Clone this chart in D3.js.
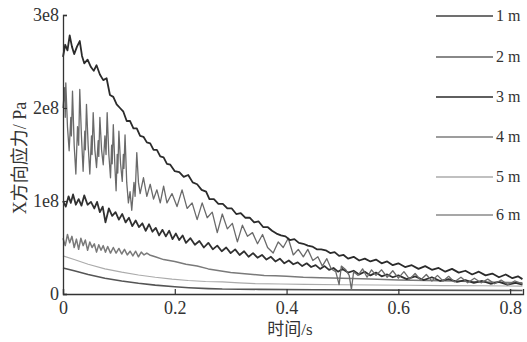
<!DOCTYPE html>
<html><head><meta charset="utf-8">
<script src="https://cdn.jsdelivr.net/npm/d3@7/dist/d3.min.js"></script>
<style>body{margin:0;background:#fff;} svg text{font-family:"Liberation Serif","Noto Sans CJK SC",serif !important;}</style>
</head><body><svg id="c" width="527" height="342"></svg>
<script>
// values in units of 1e8 Pa, time in s
const seriesNames = ["1 m","2 m","3 m","4 m","5 m","6 m"];
const xTicks = [0,0.2,0.4,0.6,0.8];
const xTickLabels = ["0","0.2","0.4","0.6","0.8"];
const yTicks = [0,1,2,3];
const yTickLabels = ["0","1e8","2e8","3e8"];

const s1 = [[0.000,2.55],[0.004,2.68],[0.008,2.62],[0.012,2.78],[0.016,2.66],[0.020,2.58],[0.025,2.66],[0.030,2.72],[0.034,2.56],[0.038,2.48],[0.044,2.52],[0.050,2.44],[0.055,2.40],[0.060,2.46],[0.066,2.36],[0.072,2.30],[0.078,2.32],[0.084,2.14],[0.090,2.12],[0.096,2.04],[0.102,2.00],[0.108,1.96],[0.114,1.86],[0.120,1.86],[0.126,1.78],[0.132,1.78],[0.138,1.70],[0.144,1.69],[0.150,1.63],[0.156,1.62],[0.162,1.55],[0.168,1.55],[0.174,1.48],[0.180,1.47],[0.186,1.40],[0.192,1.39],[0.200,1.32],[0.208,1.31],[0.216,1.26],[0.224,1.28],[0.232,1.20],[0.240,1.18],[0.248,1.12],[0.256,1.10],[0.262,1.02],[0.270,1.02],[0.278,0.97],[0.286,0.97],[0.294,0.92],[0.302,0.92],[0.310,0.86],[0.318,0.87],[0.326,0.82],[0.334,0.82],[0.342,0.77],[0.350,0.78],[0.358,0.72],[0.366,0.72],[0.374,0.68],[0.382,0.65],[0.390,0.63],[0.398,0.62],[0.406,0.58],[0.414,0.59],[0.422,0.55],[0.430,0.54],[0.438,0.52],[0.446,0.51],[0.454,0.48],[0.462,0.48],[0.470,0.47],[0.478,0.44],[0.486,0.45],[0.494,0.41],[0.502,0.42],[0.510,0.38],[0.520,0.40],[0.530,0.36],[0.540,0.38],[0.550,0.35],[0.560,0.37],[0.570,0.33],[0.580,0.35],[0.590,0.31],[0.600,0.33],[0.612,0.29],[0.624,0.31],[0.636,0.27],[0.648,0.30],[0.660,0.26],[0.672,0.28],[0.684,0.24],[0.696,0.27],[0.708,0.23],[0.720,0.25],[0.732,0.21],[0.744,0.24],[0.756,0.20],[0.768,0.22],[0.780,0.18],[0.792,0.21],[0.804,0.17],[0.814,0.19],[0.822,0.16]];

const s2 = [[0.000,2.00],[0.003,2.22],[0.004,1.90],[0.005,2.27],[0.008,1.80],[0.011,1.54],[0.014,1.90],[0.015,1.70],[0.017,2.18],[0.020,1.60],[0.023,1.29],[0.026,1.80],[0.028,1.60],[0.030,2.20],[0.033,1.70],[0.036,1.32],[0.039,1.75],[0.040,1.55],[0.042,2.04],[0.045,1.60],[0.048,1.29],[0.051,1.70],[0.052,1.50],[0.054,1.95],[0.057,1.55],[0.060,1.36],[0.063,1.65],[0.064,1.48],[0.066,1.90],[0.069,1.55],[0.072,1.39],[0.075,1.70],[0.077,1.50],[0.079,1.95],[0.082,1.50],[0.085,1.25],[0.087,1.60],[0.088,1.40],[0.090,1.82],[0.093,1.35],[0.095,1.11],[0.097,1.50],[0.098,1.30],[0.100,1.75],[0.103,1.40],[0.106,1.21],[0.108,1.50],[0.109,1.35],[0.111,1.71],[0.114,1.20],[0.117,0.98],[0.120,1.10],[0.123,0.90],[0.127,1.20],[0.129,1.05],[0.132,1.52],[0.135,1.20],[0.138,1.08],[0.144,1.25],[0.150,1.05],[0.156,1.18],[0.162,1.02],[0.168,1.12],[0.174,0.98],[0.180,1.16],[0.186,0.98],[0.195,1.08],[0.204,0.94],[0.213,1.12],[0.222,0.92],[0.231,0.98],[0.240,0.80],[0.249,0.98],[0.258,0.82],[0.267,0.88],[0.276,0.66],[0.285,0.86],[0.294,0.70],[0.303,0.76],[0.312,0.56],[0.321,0.74],[0.330,0.62],[0.339,0.66],[0.348,0.54],[0.357,0.64],[0.366,0.50],[0.376,0.44],[0.385,0.56],[0.394,0.50],[0.403,0.60],[0.412,0.42],[0.421,0.48],[0.430,0.40],[0.438,0.48],[0.447,0.36],[0.456,0.40],[0.464,0.30],[0.472,0.38],[0.480,0.27],[0.488,0.24],[0.494,0.10],[0.498,0.30],[0.506,0.26],[0.512,0.20],[0.516,0.05],[0.520,0.24],[0.528,0.20],[0.536,0.27],[0.544,0.18],[0.552,0.26],[0.560,0.20],[0.570,0.26],[0.580,0.18],[0.590,0.25],[0.600,0.17],[0.610,0.24],[0.620,0.16],[0.630,0.22],[0.640,0.15],[0.650,0.21],[0.660,0.14],[0.670,0.20],[0.680,0.14],[0.690,0.19],[0.700,0.13],[0.712,0.18],[0.724,0.12],[0.736,0.17],[0.748,0.12],[0.760,0.16],[0.772,0.11],[0.784,0.15],[0.796,0.10],[0.808,0.14],[0.822,0.11]];

const s3 = [[0.000,1.00],[0.005,0.94],[0.010,1.05],[0.014,0.98],[0.018,1.07],[0.023,0.96],[0.028,1.02],[0.033,0.95],[0.038,1.06],[0.044,0.96],[0.050,0.99],[0.056,0.92],[0.061,0.99],[0.066,0.88],[0.071,0.94],[0.076,0.77],[0.082,0.92],[0.088,0.84],[0.094,0.88],[0.100,0.80],[0.106,0.86],[0.112,0.77],[0.118,0.82],[0.124,0.73],[0.130,0.79],[0.136,0.72],[0.142,0.76],[0.148,0.68],[0.154,0.75],[0.160,0.67],[0.166,0.71],[0.172,0.63],[0.178,0.69],[0.184,0.62],[0.190,0.68],[0.196,0.59],[0.202,0.65],[0.208,0.58],[0.214,0.63],[0.220,0.55],[0.228,0.60],[0.236,0.53],[0.244,0.57],[0.252,0.50],[0.260,0.55],[0.268,0.48],[0.276,0.52],[0.284,0.46],[0.292,0.50],[0.300,0.44],[0.308,0.48],[0.316,0.42],[0.324,0.46],[0.332,0.40],[0.340,0.44],[0.348,0.39],[0.356,0.42],[0.364,0.37],[0.372,0.40],[0.380,0.35],[0.388,0.38],[0.396,0.33],[0.404,0.36],[0.412,0.32],[0.420,0.34],[0.428,0.30],[0.436,0.33],[0.444,0.29],[0.452,0.31],[0.460,0.27],[0.468,0.30],[0.476,0.26],[0.484,0.28],[0.492,0.24],[0.500,0.27],[0.510,0.23],[0.520,0.25],[0.530,0.21],[0.540,0.24],[0.550,0.20],[0.560,0.23],[0.570,0.19],[0.580,0.21],[0.590,0.18],[0.600,0.20],[0.615,0.16],[0.630,0.19],[0.645,0.15],[0.660,0.18],[0.675,0.14],[0.690,0.16],[0.705,0.13],[0.720,0.15],[0.735,0.12],[0.750,0.14],[0.765,0.11],[0.780,0.13],[0.795,0.10],[0.810,0.12],[0.822,0.10]];

const s4 = [[0.000,0.60],[0.004,0.52],[0.008,0.64],[0.012,0.55],[0.016,0.62],[0.020,0.50],[0.024,0.59],[0.028,0.48],[0.032,0.60],[0.036,0.52],[0.040,0.58],[0.044,0.47],[0.048,0.56],[0.052,0.50],[0.056,0.54],[0.060,0.45],[0.064,0.53],[0.068,0.47],[0.072,0.52],[0.076,0.45],[0.080,0.51],[0.085,0.44],[0.090,0.50],[0.095,0.44],[0.100,0.49],[0.105,0.43],[0.110,0.48],[0.115,0.42],[0.120,0.46],[0.125,0.41],[0.130,0.46],[0.135,0.40],[0.140,0.45],[0.145,0.42],[0.150,0.44],[0.155,0.42],[0.165,0.40],[0.180,0.37],[0.200,0.35],[0.220,0.32],[0.240,0.30],[0.260,0.27],[0.280,0.25],[0.300,0.23],[0.320,0.22],[0.340,0.21],[0.360,0.20],[0.380,0.195],[0.400,0.19],[0.430,0.18],[0.460,0.175],[0.500,0.17],[0.550,0.16],[0.600,0.15],[0.650,0.145],[0.700,0.14],[0.750,0.13],[0.822,0.12]];

const s5 = [[0.000,0.41],[0.020,0.37],[0.045,0.32],[0.075,0.27],[0.105,0.235],[0.135,0.205],[0.165,0.18],[0.195,0.16],[0.224,0.145],[0.255,0.135],[0.285,0.13],[0.315,0.12],[0.344,0.112],[0.390,0.107],[0.433,0.104],[0.500,0.10],[0.560,0.097],[0.620,0.094],[0.680,0.09],[0.750,0.088],[0.822,0.085]];

const s6 = [[0.000,0.28],[0.020,0.25],[0.045,0.21],[0.075,0.17],[0.105,0.14],[0.135,0.115],[0.165,0.095],[0.200,0.078],[0.225,0.068],[0.260,0.058],[0.285,0.053],[0.350,0.05],[0.450,0.046],[0.600,0.042],[0.822,0.038]];

const seriesData = [s1,s2,s3,s4,s5,s6];
const lineColors = ["#2b2b2b","#6a6a6a","#303030","#7a7a7a","#ababab","#555555"];
const lineWidths = [1.8,1.3,1.8,1.5,1.1,1.6];
const legendColors = ["#404040","#606060","#2a2a2a","#7c7c7c","#ababab","#8a8a8a"];

const svg = d3.select("#c");
const m = {l:63, t:15, r:4, b:48};
const W = 527, H = 342;
const x = d3.scaleLinear().domain([0,0.823]).range([m.l, W-m.r]);
const y = d3.scaleLinear().domain([0,3]).range([H-m.b, m.t]);

const line = d3.line().x(d=>x(d[0])).y(d=>y(d[1]));
[5,4,3,2,1,0].forEach(i=>{
  svg.append("path").datum(seriesData[i]).attr("d",line)
    .attr("fill","none").attr("stroke",lineColors[i]).attr("stroke-width",lineWidths[i])
    .attr("stroke-linejoin","round");
});

const xa = svg.append("g").attr("transform",`translate(0,${H-m.b})`)
  .call(d3.axisBottom(x).tickValues(xTicks).tickSize(-5).tickPadding(7).tickFormat((d,i)=>xTickLabels[i]));
const ya = svg.append("g").attr("transform",`translate(${m.l},0)`)
  .call(d3.axisLeft(y).tickValues(yTicks).tickSize(-4).tickPadding(4).tickFormat((d,i)=>yTickLabels[i]));
[xa,ya].forEach(g=>{
  g.attr("font-family",null);
  g.select(".domain").attr("stroke","#333").attr("stroke-width",1.3);
  g.selectAll(".tick line").attr("stroke","#333").attr("stroke-width",1.2);
  g.selectAll("text").attr("fill","#333").style("font-size","18px");
});

svg.append("text").attr("x",290).attr("y",335).attr("text-anchor","middle")
  .attr("fill","#333").style("font-size","17px").text("时间/s");
svg.append("text").attr("transform","translate(26,158) rotate(-90)").attr("text-anchor","middle")
  .attr("fill","#333").style("font-size","18px").text("X方向应力/ Pa");

const lg = svg.append("g");
const legendY = [16,57,97,137,177,215];
seriesNames.forEach((n,i)=>{
  lg.append("line").attr("x1",436).attr("x2",493).attr("y1",legendY[i]).attr("y2",legendY[i])
    .attr("stroke",legendColors[i]).attr("stroke-width",1.6);
  lg.append("text").attr("x",496).attr("y",legendY[i]+5).attr("fill","#333")
    .style("font-size","16px").text(n);
});
</script></body></html>
